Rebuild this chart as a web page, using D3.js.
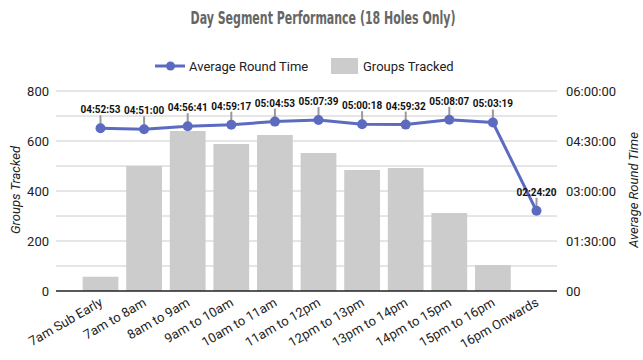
<!DOCTYPE html>
<html>
<head>
<meta charset="utf-8">
<script src="https://cdn.jsdelivr.net/npm/d3@7"></script>
<style>
  body { margin: 0; background: #fff; }
  svg { display: block; font-family: Roboto, sans-serif; }
</style>
</head>
<body>
<div class="viz"></div>
<script>
// day segments on the horizontal axis
const segments = ['7am Sub Early', '7am to 8am', '8am to 9am', '9am to 10am', '10am to 11am', '11am to 12pm',
  '12pm to 13pm', '13pm to 14pm', '14pm to 15pm', '15pm to 16pm', '16pm Onwards'];
// bars: number of groups tracked
const groupsTracked = [57, 500, 640, 588, 624, 552, 484, 492, 312, 104, 0];
// line: average round time, as h:mm:ss
const roundTimes = ['04:52:53', '04:51:00', '04:56:41', '04:59:17', '05:04:53', '05:07:39',
  '05:00:18', '04:59:32', '05:08:07', '05:03:19', '02:24:20'];
// axis ticks
const leftTicks = [0, 100, 200, 300, 400, 500, 600, 700, 800];
const leftLabels = [0, 200, 400, 600, 800];
const rightTicks = ['00', '01:30:00', '03:00:00', '04:30:00', '06:00:00'];

const toSeconds = s => s.split(':').map(Number).reduce((acc, v) => acc * 60 + v, 0);

const width = 643;
const height = 360;
const plot = { left: 56, right: 557, top: 91, bottom: 291 };
const lineColor = '#5c6bc0';

const svg = d3.select('.viz')
  .append('svg')
  .attr('width', width)
  .attr('height', height);

// scales
const x = d3.scaleBand()
  .domain(segments)
  .range([78.7, 558.3])
  .paddingInner(0.18)
  .paddingOuter(0.09);

const yLeft = d3.scaleLinear()
  .domain([0, 800])
  .range([plot.bottom, plot.top]);

const yRight = d3.scaleLinear()
  .domain([0, toSeconds('06:00:00')])
  .range([plot.bottom, plot.top]);

// title
svg.append('text')
  .attr('x', 323)
  .attr('y', 24)
  .attr('text-anchor', 'middle')
  .attr('font-family', '"Liberation Sans Narrow", "DejaVu Sans Condensed", sans-serif')
  .attr('font-weight', 'bold')
  .attr('font-size', 17)
  .attr('fill', '#666')
  .attr('textLength', 265)
  .attr('lengthAdjust', 'spacingAndGlyphs')
  .text('Day Segment Performance (18 Holes Only)');

// legend
const legend = svg.append('g').attr('font-size', 13).attr('fill', '#222');
legend.append('line')
  .attr('x1', 155).attr('x2', 185)
  .attr('y1', 66).attr('y2', 66)
  .attr('stroke', lineColor)
  .attr('stroke-width', 3);
legend.append('circle')
  .attr('cx', 170.5).attr('cy', 66).attr('r', 4.5)
  .attr('fill', lineColor);
legend.append('text')
  .attr('x', 189).attr('y', 71)
  .text('Average Round Time');
legend.append('rect')
  .attr('x', 331).attr('y', 58)
  .attr('width', 27).attr('height', 16)
  .attr('fill', '#ccc');
legend.append('text')
  .attr('x', 363).attr('y', 71)
  .text('Groups Tracked');

// grid lines
svg.append('g')
  .selectAll('line')
  .data(leftTicks.slice(1))
  .join('line')
  .attr('x1', plot.left).attr('x2', plot.right)
  .attr('y1', d => yLeft(d)).attr('y2', d => yLeft(d))
  .attr('stroke', '#ccc')
  .attr('stroke-width', 1);

// left axis labels
const leftAxis = svg.append('g')
  .attr('transform', `translate(${plot.left} 0)`)
  .call(d3.axisLeft(yLeft).tickValues(leftLabels).tickSize(0).tickPadding(7));
leftAxis.select('.domain').remove();
leftAxis.selectAll('text')
  .attr('font-size', 13)
  .attr('font-family', 'Roboto, sans-serif')
  .attr('fill', '#222');

// right axis labels
const rightAxis = svg.append('g')
  .attr('transform', `translate(${plot.right} 0)`)
  .call(d3.axisRight(yRight)
    .tickValues(rightTicks.map(toSeconds))
    .tickFormat((d, i) => rightTicks[i])
    .tickSize(0)
    .tickPadding(9));
rightAxis.select('.domain').remove();
rightAxis.selectAll('text')
  .attr('font-size', 13)
  .attr('font-family', 'Roboto, sans-serif')
  .attr('fill', '#222');

// axis titles
svg.append('text')
  .attr('transform', `translate(20 190) rotate(-90)`)
  .attr('text-anchor', 'middle')
  .attr('font-size', 13)
  .attr('font-style', 'italic')
  .attr('fill', '#222')
  .text('Groups Tracked');
svg.append('text')
  .attr('transform', `translate(638 190) rotate(-90)`)
  .attr('text-anchor', 'middle')
  .attr('font-size', 13)
  .attr('font-style', 'italic')
  .attr('fill', '#222')
  .text('Average Round Time');

// bars
svg.append('g')
  .selectAll('rect')
  .data(segments)
  .join('rect')
  .attr('x', d => x(d))
  .attr('width', x.bandwidth())
  .attr('y', (d, i) => yLeft(groupsTracked[i]))
  .attr('height', (d, i) => plot.bottom - yLeft(groupsTracked[i]))
  .attr('fill', '#ccc');

// baseline
svg.append('line')
  .attr('x1', plot.left).attr('x2', plot.right)
  .attr('y1', plot.bottom).attr('y2', plot.bottom)
  .attr('stroke', '#222')
  .attr('stroke-width', 1.5);

// x labels
svg.append('g')
  .selectAll('text')
  .data(segments)
  .join('text')
  .attr('transform', d => `translate(${x(d) + x.bandwidth() / 2 + 3} 305) rotate(-30)`)
  .attr('text-anchor', 'end')
  .attr('font-size', 13)
  .attr('fill', '#222')
  .text(d => d);

// line series
const points = segments.map((d, i) => ({
  x: x(d) + x.bandwidth() / 2,
  y: yRight(toSeconds(roundTimes[i])),
  label: roundTimes[i],
}));

// annotation stems
svg.append('g')
  .selectAll('line')
  .data(points)
  .join('line')
  .attr('x1', d => d.x).attr('x2', d => d.x)
  .attr('y1', d => d.y).attr('y2', d => d.y - 13)
  .attr('stroke', '#999')
  .attr('stroke-width', 2);

svg.append('path')
  .attr('d', d3.line().x(d => d.x).y(d => d.y)(points))
  .attr('fill', 'none')
  .attr('stroke', lineColor)
  .attr('stroke-width', 3);

svg.append('g')
  .selectAll('circle')
  .data(points)
  .join('circle')
  .attr('cx', d => d.x)
  .attr('cy', d => d.y)
  .attr('r', 5)
  .attr('fill', lineColor);

svg.append('g')
  .selectAll('text')
  .data(points)
  .join('text')
  .attr('x', d => d.x)
  .attr('y', d => d.y - 15)
  .attr('text-anchor', 'middle')
  .attr('font-size', 10)
  .attr('font-weight', 'bold')
  .attr('fill', '#111')
  .text(d => d.label);
</script>
</body>
</html>
